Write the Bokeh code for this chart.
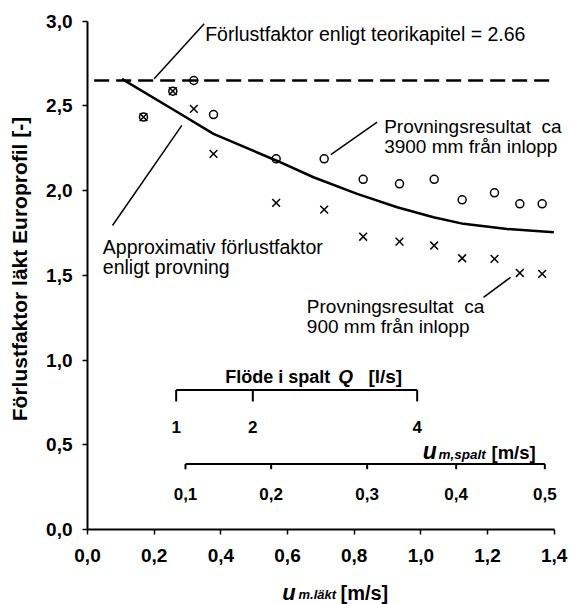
from bokeh.plotting import figure
from bokeh.layouts import column
from bokeh.models import Range1d, FixedTicker, CustomJSTickFormatter, Label
from bokeh.embed import file_html
from bokeh.resources import INLINE

# ---------------- data ----------------
# mean velocity in batten gap u_m,läkt [m/s]
u_lakt = [0.168, 0.256, 0.319, 0.378, 0.566, 0.710, 0.827, 0.936, 1.040, 1.124, 1.221, 1.297, 1.364]
# loss factor measured ca 3900 mm from inlet (circles)
f_3900 = [2.434, 2.587, 2.650, 2.449, 2.188, 2.188, 2.067, 2.040, 2.067, 1.946, 1.987, 1.922, 1.922]
# loss factor measured ca 900 mm from inlet (crosses)
f_900 = [2.434, 2.587, 2.483, 2.217, 1.928, 1.888, 1.728, 1.699, 1.676, 1.601, 1.597, 1.514, 1.509]
# approximate loss factor according to tests (solid curve)
curve_u = [0.103, 0.278, 0.378, 0.566, 0.678, 0.809, 0.929, 1.038, 1.128, 1.259, 1.399]
curve_f = [2.660, 2.454, 2.335, 2.178, 2.079, 1.981, 1.902, 1.843, 1.804, 1.774, 1.754]
# theoretical loss factor (dashed)
theory_f = 2.65
theory_u = [0.02, 1.39]
# secondary scales (value -> position on u_m,läkt scale)
q_ticks = [1, 2, 4]
q_at_u = [0.266, 0.496, 0.989]
spalt_ticks = [0.1, 0.2, 0.3, 0.4, 0.5]
spalt_at_u = [0.294, 0.551, 0.839, 1.106, 1.372]
# main axis ticks
x_ticks = [0.0, 0.2, 0.4, 0.6, 0.8, 1.0, 1.2, 1.4]
y_ticks = [0.0, 0.5, 1.0, 1.5, 2.0, 2.5, 3.0]

FONT = "Liberation Sans"

x_rng = Range1d(0, 1.452)
p = figure(width=571, height=574, output_backend="svg", toolbar_location=None, title=None,
           x_range=x_rng, y_range=Range1d(0, 3.075),
           min_border_left=87, min_border_right=0, min_border_top=8, min_border_bottom=45)
p.outline_line_color = None
p.xgrid.visible = False
p.ygrid.visible = False

fmt = CustomJSTickFormatter(code="return tick.toFixed(1).replace('.', ',');")
for ax in (p.xaxis[0], p.yaxis[0]):
    ax.formatter = fmt
    ax.axis_line_width = 2
    ax.axis_line_color = "black"
    ax.major_tick_line_width = 1.5
    ax.major_tick_line_color = "black"
    ax.major_tick_in = 0
    ax.major_tick_out = 5
    ax.minor_tick_line_color = None
    ax.major_label_text_font = FONT
    ax.major_label_text_font_style = "bold"
    ax.major_label_text_font_size = "19px"
    ax.major_label_text_color = "black"
p.xaxis[0].ticker = FixedTicker(ticks=x_ticks)
p.yaxis[0].ticker = FixedTicker(ticks=y_ticks)
p.xaxis[0].bounds = (x_ticks[0], x_ticks[-1])
p.yaxis[0].bounds = (y_ticks[0], y_ticks[-1])
p.xaxis[0].major_label_standoff = 14
p.yaxis[0].major_label_standoff = 10
p.yaxis[0].axis_label = "Förlustfaktor läkt Europrofil [-]"
p.yaxis[0].axis_label_text_font = FONT
p.yaxis[0].axis_label_text_font_style = "bold"
p.yaxis[0].axis_label_text_font_size = "21px"
p.yaxis[0].axis_label_text_color = "black"
p.yaxis[0].axis_label_standoff = 12

# theoretical dashed line
p.line(theory_u, [theory_f, theory_f], line_color="black", line_width=2.5, line_dash="15 7")
# approximate curve
p.line(curve_u, curve_f, line_color="black", line_width=2.5)
# measurements
p.scatter(u_lakt, f_3900, marker="circle", size=8, fill_color=None, line_color="black", line_width=1.5)
p.scatter(u_lakt, f_900, marker="x", size=11, line_color="black", line_width=1.5)

# leader lines
p.segment(x0=[0.200, 0.730, 0.075, 1.188], y0=[2.660, 2.213, 1.794, 1.370],
          x1=[0.350, 0.869, 0.283, 1.269], y1=[2.985, 2.404, 2.385, 1.488],
          line_color="black", line_width=1.5)

# inner axis: flow Q
q_y, q_tick = 0.823, 0.067
p.segment(x0=[min(q_at_u)], y0=[q_y], x1=[max(q_at_u)], y1=[q_y], line_color="black", line_width=2)
p.segment(x0=q_at_u, y0=[q_y] * len(q_at_u), x1=q_at_u, y1=[q_y - q_tick] * len(q_at_u),
          line_color="black", line_width=2)
# inner axis: u_m,spalt
s_y, s_tick = 0.386, 0.030
p.segment(x0=[min(spalt_at_u)], y0=[s_y], x1=[max(spalt_at_u)], y1=[s_y], line_color="black", line_width=2)
p.segment(x0=spalt_at_u, y0=[s_y] * len(spalt_at_u), x1=spalt_at_u, y1=[s_y - s_tick] * len(spalt_at_u),
          line_color="black", line_width=2)


def txt(fig, x, y, t, size, style="normal", align="left"):
    fig.add_layout(Label(x=x, y=y, text=t, text_font=FONT, text_font_size=size,
                         text_font_style=style, text_align=align, text_baseline="alphabetic",
                         text_color="black"))


# annotations
txt(p, 0.353, 2.925, "Förlustfaktor enligt teorikapitel = 2.66", "19.5px")
txt(p, 0.890, 2.376, "Provningsresultat\u00a0 ca", "19px")
txt(p, 0.890, 2.260, "3900 mm från inlopp", "19px")
txt(p, 0.046, 1.670, "Approximativ förlustfaktor", "19.5px")
txt(p, 0.046, 1.552, "enligt provning", "19.5px")
txt(p, 0.658, 1.315, "Provningsresultat\u00a0 ca", "19px")
txt(p, 0.658, 1.197, "900 mm från inlopp", "19px")

# inner axis labels
for v, u in zip(q_ticks, q_at_u):
    txt(p, u, 0.607, str(v), "17px", "bold", "center")
for v, u in zip(spalt_ticks, spalt_at_u):
    txt(p, u, 0.209, f"{v:.1f}".replace(".", ","), "17px", "bold", "center")
txt(p, 0.413, 0.902, "Flöde i spalt", "18px", "bold")
txt(p, 0.752, 0.902, "Q", "19px", "bold italic")
txt(p, 0.944, 0.902, "[l/s]", "19px", "bold", "right")
txt(p, 1.006, 0.465, "u", "23px", "bold italic")
txt(p, 1.053, 0.444, "m,spalt", "13.5px", "bold italic")
txt(p, 1.212, 0.456, "[m/s]", "18.5px", "bold")

# main x-axis title (own strip below the plot)
p2 = figure(width=571, height=30, output_backend="svg", toolbar_location=None, title=None,
            x_range=x_rng, y_range=Range1d(0, 1),
            min_border_left=87, min_border_right=0, min_border_top=0, min_border_bottom=0)
p2.axis.visible = False
p2.grid.visible = False
p2.outline_line_color = None
txt(p2, 0.584, 0.400, "u", "22px", "bold italic")
txt(p2, 0.633, 0.317, "m.läkt", "13px", "bold italic")
txt(p2, 0.759, 0.367, "[m/s]", "20px", "bold")

layout = column(p, p2, spacing=0)
open("out.html", "w").write(file_html(layout, INLINE))
